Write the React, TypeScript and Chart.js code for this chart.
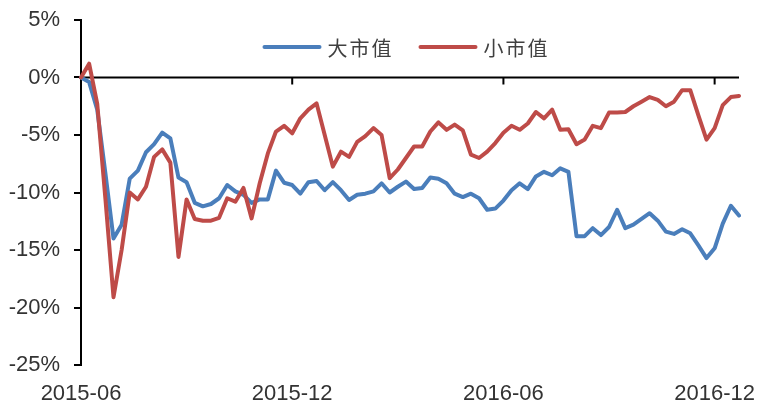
import React, { useEffect, useRef } from 'react';
import { Chart, registerables } from 'chart.js';

Chart.register(...registerables);

// Weekly observation dates
const categories: string[] = [
  '2015-06-05', '2015-06-12', '2015-06-19', '2015-06-26', '2015-07-03', '2015-07-10', '2015-07-17', '2015-07-24',
  '2015-07-31', '2015-08-07', '2015-08-14', '2015-08-21', '2015-08-28', '2015-09-04', '2015-09-11', '2015-09-18',
  '2015-09-25', '2015-10-02', '2015-10-09', '2015-10-16', '2015-10-23', '2015-10-30', '2015-11-06', '2015-11-13',
  '2015-11-20', '2015-11-27', '2015-12-04', '2015-12-11', '2015-12-18', '2015-12-25', '2016-01-01', '2016-01-08',
  '2016-01-15', '2016-01-22', '2016-01-29', '2016-02-05', '2016-02-12', '2016-02-19', '2016-02-26', '2016-03-04',
  '2016-03-11', '2016-03-18', '2016-03-25', '2016-04-01', '2016-04-08', '2016-04-15', '2016-04-22', '2016-04-29',
  '2016-05-06', '2016-05-13', '2016-05-20', '2016-05-27', '2016-06-03', '2016-06-10', '2016-06-17', '2016-06-24',
  '2016-07-01', '2016-07-08', '2016-07-15', '2016-07-22', '2016-07-29', '2016-08-05', '2016-08-12', '2016-08-19',
  '2016-08-26', '2016-09-02', '2016-09-09', '2016-09-16', '2016-09-23', '2016-09-30', '2016-10-07', '2016-10-14',
  '2016-10-21', '2016-10-28', '2016-11-04', '2016-11-11', '2016-11-18', '2016-11-25', '2016-12-02', '2016-12-09',
  '2016-12-16', '2016-12-23',
];

// 大市值 (%)
const largeCap: number[] = [
  0, -0.4, -2.8, -8.3, -14.0, -12.8, -8.8, -8.1, -6.5, -5.8,
  -4.8, -5.3, -8.7, -9.1, -10.9, -11.2, -11.0, -10.5, -9.35, -9.9,
  -10.2, -10.9, -10.6, -10.6, -8.1, -9.15, -9.35, -10.1, -9.1, -9.0,
  -9.8, -9.1, -9.8, -10.65, -10.2, -10.1, -9.9, -9.2, -10.0, -9.5,
  -9.05, -9.7, -9.6, -8.7, -8.8, -9.2, -10.1, -10.4, -10.1, -10.5,
  -11.5, -11.4, -10.7, -9.8, -9.2, -9.7, -8.6, -8.2, -8.5, -7.9,
  -8.2, -13.8, -13.8, -13.1, -13.7, -13.0, -11.5, -13.1, -12.8, -12.3,
  -11.8, -12.45, -13.4, -13.6, -13.2, -13.55, -14.6, -15.7, -14.85, -12.7,
  -11.15, -12.0,
];

// 小市值 (%)
const smallCap: number[] = [
  0, 1.2, -2.3, -10.5, -19.1, -15.0, -10.0, -10.6, -9.5, -6.9,
  -6.25, -7.4, -15.6, -10.6, -12.3, -12.45, -12.45, -12.2, -10.5, -10.8,
  -9.6, -12.25, -9.2, -6.6, -4.7, -4.2, -4.85, -3.55, -2.8, -2.25,
  -5.0, -7.75, -6.45, -6.9, -5.6, -5.1, -4.4, -5.0, -8.75, -8.0,
  -7.0, -6.0, -6.0, -4.7, -3.9, -4.55, -4.1, -4.6, -6.7, -7.0,
  -6.45, -5.7, -4.8, -4.2, -4.55, -4.0, -3.0, -3.55, -2.8, -4.55,
  -4.5, -5.8, -5.4, -4.2, -4.4, -3.05, -3.05, -3.0, -2.5, -2.1,
  -1.7, -1.95, -2.5, -2.1, -1.1, -1.1, -3.3, -5.4, -4.4, -2.4,
  -1.7, -1.6,
];

const seriesNames: string[] = ['大市值', '小市值'];
const seriesColors: string[] = ['#4A7EBB', '#BE4B48'];
const xTickLabels: string[] = ['2015-06', '2015-12', '2016-06', '2016-12'];
const yMin = -25;
const yMax = 5;
const yStep = 5;

const isTickCategory = (c: string) =>
  xTickLabels.includes(c.slice(0, 7)) && Number(c.slice(8)) <= 7;

const AXIS_FONT = '"Liberation Sans", Arial, sans-serif';
const LEGEND_FONT = '"Noto Sans CJK SC", sans-serif';

const noScalePadding = (scale: any) => {
  scale.paddingLeft = 0;
  scale.paddingRight = 0;
  scale.paddingTop = 0;
  scale.paddingBottom = 0;
};

export default function App() {
  const ref = useRef<HTMLCanvasElement>(null);

  useEffect(() => {
    document.body.style.margin = '0';
    if (!ref.current) return;

    const zeroLine = {
      id: 'zeroLine',
      beforeDatasetsDraw(chart: any) {
        const { ctx, chartArea, scales } = chart;
        const y = scales.y.getPixelForValue(0);
        ctx.save();
        ctx.strokeStyle = '#000';
        ctx.lineWidth = 2;
        ctx.beginPath();
        ctx.moveTo(chartArea.left, y);
        ctx.lineTo(chartArea.right, y);
        categories.forEach((c, i) => {
          if (i > 0 && isTickCategory(c)) {
            const x = scales.x.getPixelForValue(i);
            ctx.moveTo(x, y);
            ctx.lineTo(x, y + 7);
          }
        });
        ctx.stroke();
        ctx.restore();
      },
    };

    const inlineLegend = {
      id: 'inlineLegend',
      afterDraw(chart: any) {
        const { ctx, chartArea } = chart;
        const sample = 59;
        const gap = 6;
        const itemGap = 25;
        ctx.save();
        ctx.font = `20px ${LEGEND_FONT}`;
        (ctx as any).letterSpacing = '2px';
        const widths = seriesNames.map((n) => ctx.measureText(n).width);
        const total = widths.reduce((s, w) => s + sample + gap + w, 0) + itemGap * (seriesNames.length - 1);
        let x = (chartArea.left + chartArea.right) / 2 - 4 - total / 2;
        const y = 47;
        seriesNames.forEach((n, i) => {
          ctx.strokeStyle = seriesColors[i];
          ctx.lineWidth = 4;
          ctx.lineCap = 'round';
          ctx.beginPath();
          ctx.moveTo(x + 2, y);
          ctx.lineTo(x + sample - 2, y);
          ctx.stroke();
          ctx.fillStyle = '#404040';
          ctx.textBaseline = 'middle';
          ctx.textAlign = 'left';
          ctx.fillText(n, x + sample + gap, y + 1);
          x += sample + gap + widths[i] + itemGap;
        });
        ctx.restore();
      },
    };

    const chart = new Chart(ref.current, {
      type: 'line',
      data: {
        labels: categories,
        datasets: [
          {
            label: seriesNames[0],
            data: largeCap,
            borderColor: seriesColors[0],
            backgroundColor: seriesColors[0],
            borderWidth: 4,
            pointRadius: 0,
            tension: 0,
            borderJoinStyle: 'round',
            borderCapStyle: 'round',
            order: 1,
          },
          {
            label: seriesNames[1],
            data: smallCap,
            borderColor: seriesColors[1],
            backgroundColor: seriesColors[1],
            borderWidth: 4,
            pointRadius: 0,
            tension: 0,
            borderJoinStyle: 'round',
            borderCapStyle: 'round',
            order: 0,
          },
        ],
      },
      options: {
        animation: false,
        responsive: true,
        maintainAspectRatio: false,
        layout: { padding: { top: 20, right: 20, left: 0, bottom: 0 } },
        plugins: {
          legend: { display: false },
          tooltip: { enabled: false },
        },
        scales: {
          x: {
            type: 'category',
            offset: false,
            grid: { display: false },
            border: { display: false },
            afterFit: (scale: any) => {
              scale.height = 40;
              noScalePadding(scale);
            },
            ticks: {
              autoSkip: false,
              maxRotation: 0,
              minRotation: 0,
              padding: 8,
              color: '#333',
              font: { family: AXIS_FONT, size: 22 },
              callback: (_v: any, index: number) => {
                const c = categories[index];
                return isTickCategory(c) ? c.slice(0, 7) : null;
              },
            },
          },
          y: {
            min: yMin,
            max: yMax,
            afterFit: (scale: any) => {
              scale.width = 81;
              noScalePadding(scale);
            },
            grid: {
              drawOnChartArea: false,
              drawTicks: true,
              tickLength: 7,
              color: '#000',
              lineWidth: 2,
            },
            border: { display: true, color: '#000', width: 2 },
            ticks: {
              stepSize: yStep,
              padding: 14,
              color: '#333',
              font: { family: AXIS_FONT, size: 22 },
              callback: (v: any) => `${v}%`,
            },
          },
        },
      },
      plugins: [zeroLine, inlineLegend],
    });

    return () => chart.destroy();
  }, []);

  return (
    <div style={{ width: 759, height: 405, position: 'relative' }}>
      <canvas ref={ref} />
    </div>
  );
}
